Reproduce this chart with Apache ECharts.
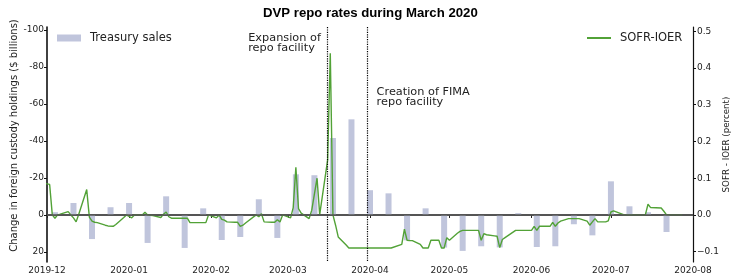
<!DOCTYPE html>
<html><head><meta charset="utf-8">
<script src="https://cdn.jsdelivr.net/npm/echarts@6/dist/echarts.min.js"></script>
<style>html,body{margin:0;padding:0;background:#fff}#c{width:733px;height:273px}</style>
</head><body><div id="c"></div>
<script>
// ---- data ----
const barDates = ['2019-12-04','2019-12-11','2019-12-18','2019-12-25','2020-01-01','2020-01-08','2020-01-15','2020-01-22','2020-01-29','2020-02-05','2020-02-12','2020-02-19','2020-02-26','2020-03-04','2020-03-11','2020-03-18','2020-03-25','2020-04-01','2020-04-08','2020-04-15','2020-04-22','2020-04-29','2020-05-06','2020-05-13','2020-05-20','2020-05-27','2020-06-03','2020-06-10','2020-06-17','2020-06-24','2020-07-01','2020-07-08','2020-07-15','2020-07-22'];
const barValues = [-1.5,-6.5,13,-4.2,-6.5,15.1,-10.1,17.8,-3.6,13.5,11.9,-8.5,12.4,-22,-21.5,-41.6,-51.7,-13.4,-11.7,13.7,-3.6,17.6,19.4,16.9,17.5,-1,17.3,16.9,5,11,-18.2,-4.7,-1.5,9.2];

const lineDates = ['2019-11-29','2019-12-02','2019-12-03','2019-12-04','2019-12-05','2019-12-06','2019-12-09','2019-12-10','2019-12-11','2019-12-12','2019-12-13','2019-12-16','2019-12-17','2019-12-18','2019-12-19','2019-12-20','2019-12-23','2019-12-24','2019-12-26','2019-12-27','2019-12-30','2019-12-31',
'2020-01-02','2020-01-03','2020-01-06','2020-01-07','2020-01-08','2020-01-09','2020-01-10','2020-01-13','2020-01-14','2020-01-15','2020-01-16','2020-01-17','2020-01-21','2020-01-22','2020-01-23','2020-01-24','2020-01-27','2020-01-28','2020-01-29','2020-01-30','2020-01-31',
'2020-02-03','2020-02-04','2020-02-05','2020-02-06','2020-02-07','2020-02-10','2020-02-11','2020-02-12','2020-02-13','2020-02-14','2020-02-18','2020-02-19','2020-02-20','2020-02-21','2020-02-24','2020-02-25','2020-02-26','2020-02-27','2020-02-28',
'2020-03-02','2020-03-03','2020-03-04','2020-03-05','2020-03-06','2020-03-09','2020-03-10','2020-03-12','2020-03-13','2020-03-16','2020-03-17','2020-03-18','2020-03-19','2020-03-20','2020-03-23','2020-03-24','2020-04-09',
'2020-04-13','2020-04-14','2020-04-15','2020-04-16','2020-04-17','2020-04-20','2020-04-21','2020-04-23','2020-04-24','2020-04-27','2020-04-28','2020-04-29','2020-04-30','2020-05-01',
'2020-05-04','2020-05-05','2020-05-06','2020-05-12','2020-05-13','2020-05-14','2020-05-15','2020-05-18','2020-05-19','2020-05-20','2020-05-21','2020-05-22','2020-05-26','2020-06-01',
'2020-06-02','2020-06-03','2020-06-04','2020-06-08','2020-06-09','2020-06-10','2020-06-11','2020-06-12','2020-06-15','2020-06-19','2020-06-22','2020-06-23','2020-06-24','2020-06-25','2020-06-26','2020-06-29','2020-06-30',
'2020-07-01','2020-07-02','2020-07-06','2020-07-14','2020-07-15','2020-07-16','2020-07-20','2020-07-21','2020-07-22','2020-07-28'];
const lineValues = [0.088,0.083,0.0,-0.009,0.0,0.002,0.009,0.0,-0.008,-0.019,0.002,0.069,-0.006,-0.017,-0.02,-0.021,-0.028,-0.03,-0.031,-0.026,-0.007,0.0,
-0.008,0.0,0.0,0.007,0.0,-0.001,-0.002,-0.007,0.002,0.008,-0.005,-0.009,-0.009,-0.009,-0.009,-0.021,-0.021,-0.021,-0.021,-0.021,0.0,
-0.008,0.0,-0.012,-0.014,-0.019,-0.02,-0.02,-0.031,-0.028,-0.022,0.0,-0.005,0.003,-0.019,-0.02,-0.02,-0.013,-0.019,0.0,
-0.008,0.02,0.13,0.017,0.005,-0.01,0.013,0.1,0.001,0.15,0.44,0.0,-0.028,-0.06,-0.082,-0.09,-0.09,
-0.08,-0.039,-0.069,-0.07,-0.07,-0.08,-0.09,-0.09,-0.069,-0.069,-0.09,-0.09,-0.062,-0.069,
-0.05,-0.045,-0.042,-0.042,-0.069,-0.051,-0.054,-0.057,-0.058,-0.089,-0.067,-0.062,-0.042,-0.042,
-0.031,-0.042,-0.031,-0.031,-0.02,-0.031,-0.022,-0.017,-0.01,-0.01,-0.017,-0.028,-0.019,-0.01,-0.019,-0.019,-0.016,
0.008,0.011,0.0,0.0,0.029,0.02,0.019,0.01,0.0,0.0];

const monthTicks = ['2019-12-01','2020-01-01','2020-02-01','2020-03-01','2020-04-01','2020-05-01','2020-06-01','2020-07-01','2020-08-01'];
const leftTicks = [-100,-80,-60,-40,-20,0,20];
const rightTicks = [-0.1,0,0.1,0.2,0.3,0.4,0.5];
const eventDates = ['2020-03-16','2020-03-31'];
const eventLabels = ['Expansion of\nrepo facility','Creation of FIMA\nrepo facility'];
const eventLabelAnchors = [['2020-02-15',0.467],['2020-04-03 12:00',0.320]];

// ---- chart ----
const pd = s => echarts.number.parseDate(s).getTime();
const FONT = 'DejaVu Sans';
const chart = echarts.init(document.getElementById('c'), null, {renderer:'canvas'});
chart.setOption({
  animation:false,
  backgroundColor:'#fff',
  title:{text:'DVP repo rates during March 2020', left:258, top:2,
    textStyle:{fontFamily:'Liberation Sans', fontWeight:'bold', fontSize:13.2, color:'#000'}},
  grid:{left:47, right:40, top:27, bottom:11, containLabel:false, outerBoundsMode:'none'},
  legend:[
    {data:[{name:'Treasury sales', icon:'rect'}], left:57, top:32, padding:0, itemWidth:24, itemHeight:7,
     textStyle:{fontFamily:FONT, fontSize:11.5, color:'#222', padding:[0,0,0,4]}},
    {data:[{name:'SOFR-IOER', icon:'rect'}], left:587, top:32, padding:0, itemWidth:24, itemHeight:2,
     textStyle:{fontFamily:FONT, fontSize:11.5, color:'#222', padding:[0,0,0,4]}}
  ],
  xAxis:{type:'value', min:pd(monthTicks[0]), max:pd(monthTicks[monthTicks.length-1]),
    axisLine:{show:true, lineStyle:{color:'#222', width:1.5}},
    axisTick:{show:true, length:3, customValues:monthTicks.map(pd), lineStyle:{color:'#222'}},
    axisLabel:{customValues:monthTicks.map(pd), margin:4, fontFamily:FONT, fontSize:9, color:'#222',
      formatter:v=>echarts.time.format(v,'{yyyy}-{MM}',false)},
    splitLine:{show:false}},
  yAxis:[
    {type:'value', inverse:true, min:-101.6, max:25.4, position:'left',
     axisLine:{show:true, lineStyle:{color:'#111', width:1.6}},
     axisTick:{show:true, length:3, customValues:leftTicks, lineStyle:{color:'#111'}},
     axisLabel:{customValues:leftTicks, margin:3, fontFamily:FONT, fontSize:9, color:'#222', formatter:v=>String(v)},
     splitLine:{show:false},
     name:'Change in foreign custody holdings ($ billions)', nameLocation:'middle', nameGap:28, nameMoveOverlap:false,
     nameTextStyle:{fontFamily:FONT, fontSize:10, color:'#222', padding:[0,0,0,18]}},
    {type:'value', min:-0.1282, max:0.5117, position:'right',
     axisLine:{show:true, lineStyle:{color:'#111', width:1.2}},
     axisTick:{show:true, length:3, customValues:rightTicks, lineStyle:{color:'#111'}},
     axisLabel:{customValues:rightTicks, margin:4, fontFamily:FONT, fontSize:9, color:'#222',
       formatter:v=>(v<-1e-9?'\u2212':'')+Math.abs(v).toFixed(1)},
     splitLine:{show:false},
     name:'SOFR - IOER (percent)', nameLocation:'middle', nameGap:29, nameMoveOverlap:false,
     nameTextStyle:{fontFamily:FONT, fontSize:8.7, color:'#222'}}
  ],
  series:[
    {name:'Treasury sales', type:'bar', yAxisIndex:0, barWidth:6,
     itemStyle:{color:'#c0c5dc'},
     data:barDates.map((d,i)=>[pd(d),barValues[i]]),
     markLine:{silent:true, symbol:'none', label:{show:false},
       lineStyle:{color:'#000', type:'dotted', width:1.2},
       data:eventDates.map(d=>({xAxis:pd(d)}))},
     z:2},
    {name:'SOFR-IOER', type:'line', yAxisIndex:1, showSymbol:false, symbol:'none',
     lineStyle:{color:'#52a237', width:1.4}, itemStyle:{color:'#52a237'},
     data:lineDates.map((d,i)=>[pd(d),lineValues[i]]),
     markLine:{silent:true, symbol:'none', label:{show:false},
       lineStyle:{color:'#555', type:'solid', width:1.5},
       data:[{yAxis:0}]},
     markPoint:{silent:true, symbol:'circle', symbolSize:0,
       data:eventLabels.map((t,i)=>({coord:[pd(eventLabelAnchors[i][0]), eventLabelAnchors[i][1]],
         label:{show:true, position:'right', distance:0, formatter:t, align:'left', verticalAlign:'middle',
           fontFamily:FONT, fontSize:11.3, lineHeight:10, color:'#222'}}))},
     z:3}
  ]
});
</script></body></html>
